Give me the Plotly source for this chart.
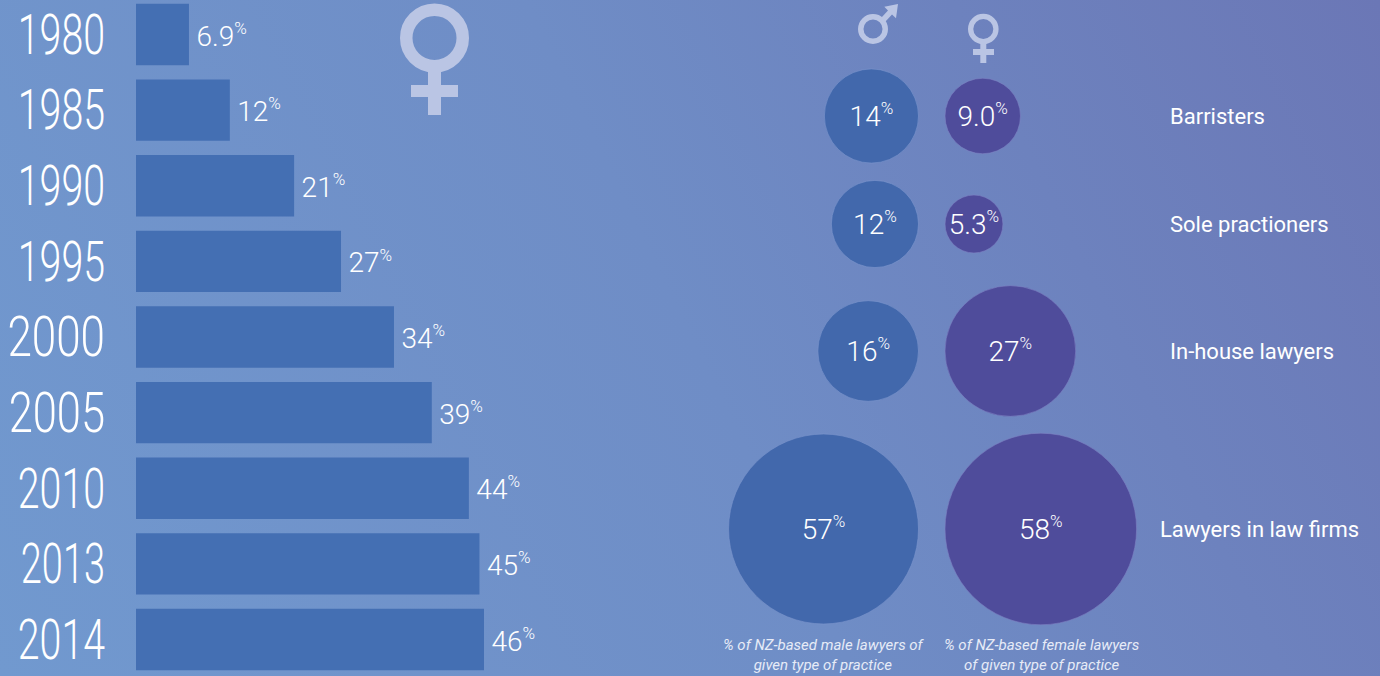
import base64
import math
import plotly.graph_objects as go

W, H = 1380, 676

# ---- data ----
years = ["1980", "1985", "1990", "1995", "2000", "2005", "2010", "2013", "2014"]
bar_values = [7.0, 12.4, 20.9, 27.1, 34.1, 39.1, 44.0, 45.4, 46.0]
bar_labels = ["6.9", "12", "21", "27", "34", "39", "44", "45", "46"]

practice = ["Barristers", "Sole practioners", "In-house lawyers", "Lawyers in law firms"]
male_values = [14, 12, 16, 57]
female_values = [9.0, 5.3, 27, 58]
male_labels = ["14", "12", "16", "57"]
female_labels = ["9.0", "5.3", "27", "58"]
male_caption = "% of NZ-based male lawyers of<br>given type of practice"
female_caption = "% of NZ-based female lawyers<br>of given type of practice"

# ---- style ----
FONT = "Roboto"
WHITE = "#ffffff"
BAR = "#446FB3"
MALE = "#4268AC"
FEMALE = "#4F4C9B"
ICON = "#BAC5E4"
PX_PER_UNIT = 7.565
BAR_LEFT = 136
ROW0, ROW_PITCH = 34.5, 75.625
row_y = [116, 224, 351, 529]
MALE_EDGE, FEMALE_EDGE = 918.5, 945
SIZEREF = 0.00316
LABEL_GAP = 7.5 / PX_PER_UNIT
TEXT_DROP = 3


def radius(v):
    return math.sqrt(v / 2 / SIZEREF)


def pct(s, small=17):
    return f'{s}<sup><span style="font-size:{small}px">%</span></sup>'


svg = f'''<svg xmlns="http://www.w3.org/2000/svg" width="{W}" height="{H}" preserveAspectRatio="none">
<defs><linearGradient id="g" gradientUnits="userSpaceOnUse" x1="0" y1="676" x2="1380" y2="0">
<stop offset="0" stop-color="#7199CF"/><stop offset="0.5" stop-color="#6F8DC6"/><stop offset="1" stop-color="#6B77B6"/>
</linearGradient></defs><rect width="{W}" height="{H}" fill="url(#g)"/></svg>'''
bg = "data:image/svg+xml;base64," + base64.b64encode(svg.encode()).decode()

rows = list(range(len(years)))
value_font = dict(family=FONT, size=28, color=WHITE, weight=300)

fig = go.Figure()
fig.add_trace(go.Bar(
    x=bar_values, y=rows, orientation="h", width=0.813,
    marker=dict(color=BAR, line_width=0), xaxis="x", yaxis="y", hoverinfo="skip",
))
fig.add_trace(go.Scatter(
    x=[v + LABEL_GAP for v in bar_values], y=[r + 4 / ROW_PITCH for r in rows], mode="text",
    text=[pct(s) for s in bar_labels], textposition="middle right",
    textfont=value_font, xaxis="x", yaxis="y", hoverinfo="skip",
))
male_x = [MALE_EDGE - radius(v) for v in male_values]
female_x = [FEMALE_EDGE + radius(v) for v in female_values]
fig.add_trace(go.Scatter(
    x=male_x, y=row_y, mode="markers",
    marker=dict(size=male_values, sizemode="area", sizeref=SIZEREF, color=MALE, opacity=1,
                line=dict(color="rgba(125,150,205,0.6)", width=1)),
    xaxis="x2", yaxis="y2", hoverinfo="skip",
))
fig.add_trace(go.Scatter(
    x=female_x, y=row_y, mode="markers",
    marker=dict(size=female_values, sizemode="area", sizeref=SIZEREF, color=FEMALE, opacity=1,
                line=dict(color="rgba(125,130,195,0.6)", width=1)),
    xaxis="x2", yaxis="y2", hoverinfo="skip",
))
fig.add_trace(go.Scatter(
    x=male_x + female_x, y=[y + TEXT_DROP for y in row_y] * 2, mode="text",
    text=[pct(s) for s in male_labels + female_labels], textposition="middle center",
    textfont=value_font, xaxis="x2", yaxis="y2", hoverinfo="skip",
))

ann = []
for name, y in zip(practice, row_y):
    right = name == practice[-1]
    ann.append(dict(x=1158 if right else 1168, y=y, xref="x2", yref="y2", xanchor="left", yanchor="middle",
                    text=name, showarrow=False, font=dict(family=FONT, size=22, color=WHITE)))
for cx, cap in ((824, male_caption), (1041, female_caption)):
    ann.append(dict(x=cx, y=655, xref="x2", yref="y2", xanchor="center", yanchor="middle", text=f"<i>{cap}</i>",
                    showarrow=False, align="center",
                    font=dict(family=FONT, size=15, color="#E6EBF7")))


def s_common():
    return dict(xref="x2", yref="y2", layer="above")


def ring(cx, cy, r, t):
    m = r - t / 2
    return dict(type="circle", x0=cx - m, x1=cx + m, y0=cy - m, y1=cy + m,
                line=dict(color=ICON, width=t), fillcolor="rgba(0,0,0,0)", **s_common())


def rect(x0, y0, x1, y1):
    return dict(type="rect", x0=x0, x1=x1, y0=y0, y1=y1, line_width=0, fillcolor=ICON, **s_common())


shapes = [
    ring(434.5, 38, 34.5, 12.5), rect(428, 70, 441, 115), rect(411, 85, 458, 97),
    ring(983.3, 29, 15.3, 5.3), rect(980.3, 43, 986.3, 63), rect(973, 49, 994, 55),
    ring(873, 29, 15, 5.5),
    dict(type="path", path="M 898 4 L 884.3 6.7 L 888 10.5 L 881.5 17.5 L 885.5 21.5 L 892 14.5 L 896 18.3 Z",
         line_width=0, fillcolor=ICON, **s_common()),
]

fig.update_layout(
    width=W, height=H, autosize=False, showlegend=False,
    margin=dict(l=0, r=0, t=0, b=0, pad=0),
    paper_bgcolor="rgba(0,0,0,0)", plot_bgcolor="rgba(0,0,0,0)",
    images=[dict(source=bg, xref="paper", yref="paper", x=0, y=1, sizex=1, sizey=1,
                 sizing="stretch", xanchor="left", yanchor="top", layer="below")],
    xaxis=dict(domain=[BAR_LEFT / W, 1], range=[0, (W - BAR_LEFT) / PX_PER_UNIT], visible=False, anchor="y",
               automargin=False),
    yaxis=dict(domain=[0, 1], tickmode="array", tickvals=rows, ticktext=years,
               range=[(H - ROW0) / ROW_PITCH, -ROW0 / ROW_PITCH], anchor="x", automargin=False,
               showgrid=False, zeroline=False, showline=False,
               ticks="outside", ticklen=19, tickcolor="rgba(0,0,0,0)", tickwidth=1,
               tickfont=dict(family=FONT, size=55, color=WHITE, weight=300)),
    xaxis2=dict(domain=[0, 1], range=[0, W], visible=False, anchor="y2", automargin=False),
    yaxis2=dict(domain=[0, 1], range=[H, 0], visible=False, anchor="x2", automargin=False),
    annotations=ann, shapes=shapes,
)

POST = """
document.documentElement.style.margin='0';
document.body.style.margin='0';
document.body.style.overflow='hidden';
(function(){
  var wide={'2000':0.80,'2005':0.79,'2013':0.69};
  function squeeze(){
    document.querySelectorAll('.ytick text').forEach(function(t){
      if(t.dataset.sq) return;
      t.dataset.sq='1';
      var k=wide[t.textContent]||0.715;
      var x=parseFloat(t.getAttribute('x'))||0;
      var tr=t.getAttribute('transform')||'';
      t.setAttribute('transform', tr+' translate('+x+' 0) scale('+k+' 1) translate('+(-x)+' 0)');
    });
  }
  squeeze(); setTimeout(squeeze,50); setTimeout(squeeze,300);
})();
"""
fig.write_html("out.html", config=dict(displayModeBar=False, responsive=False), post_script=POST)
